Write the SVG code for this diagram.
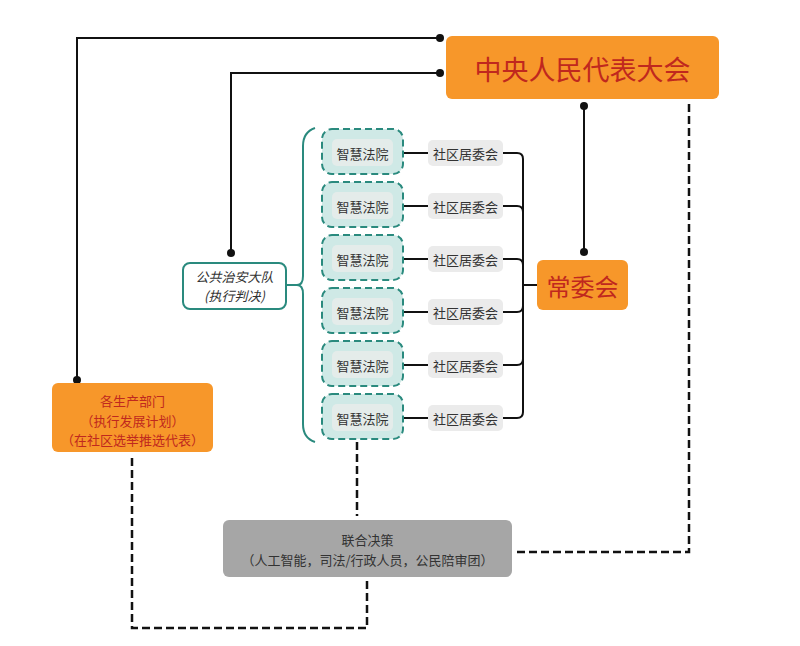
<svg xmlns="http://www.w3.org/2000/svg" width="800" height="646" viewBox="0 0 800 646">
<defs>
<style>
.t{font-family:"Noto Sans CJK SC","Noto Sans",sans-serif;}
.or{fill:#F7972A;}
.court-o{fill:#CFE9E6;stroke:#2A8A7E;stroke-width:2;stroke-dasharray:7 4;}
.court-i{fill:#E4ECEA;}
.comm{fill:#EBEBEB;}
.lbl{font-size:13px;fill:#333;text-anchor:middle;dominant-baseline:central;}
.ln{fill:none;stroke:#111;stroke-width:2;}
.dl{fill:none;stroke:#111;stroke-width:2.5;stroke-dasharray:8 4;}
</style>
</defs>
<rect width="800" height="646" fill="#fff"/>
<g id="connectors">
<path class="ln" d="M440,38 H77 V380"/>
<path class="ln" d="M440,73 H231 V253"/>
<circle cx="440" cy="38" r="4" fill="#111"/>
<circle cx="440" cy="73" r="4" fill="#111"/>
<circle cx="77" cy="380" r="4" fill="#111"/>
<circle cx="231" cy="253" r="4" fill="#111"/>
<path class="ln" d="M584,106 V252"/>
<circle cx="584" cy="106" r="4" fill="#111"/>
<circle cx="584" cy="252" r="4" fill="#111"/>
<path fill="none" stroke="#2A8A7E" stroke-width="2" d="M286,285 H298 M315,128 Q303,132 303,146 V276 Q303,285 297,285 Q303,285 303,294 V424 Q303,438 315,442"/>
<g class="ln">
<path d="M393,153 H428 M393,206 H428 M393,259 H428 M393,312 H428 M393,365 H428 M393,418 H428"/>
<path d="M503,153 H517 Q523,153 523,159 V412 Q523,418 517,418 H503"/>
<path d="M503,206 H517 Q523,206 523,212 M503,259 H517 Q523,259 523,265 M503,312 H517 Q523,312 523,306 M503,365 H517 Q523,365 523,359"/>
<path d="M523,285 H537"/>
</g>
<path class="dl" d="M357,442 V516"/>
<path class="dl" d="M367,581 V628 H132 V455"/>
<path class="dl" d="M517,552 H689 V101"/>
</g>
<g id="npc">
<rect class="or" x="446" y="36" width="273" height="63" rx="6"/>
<text class="t" x="582.5" y="68" font-size="27" fill="#C0281E" text-anchor="middle" dominant-baseline="central">中央人民代表大会</text>
</g>
<g id="standing">
<rect class="or" x="537" y="260" width="91" height="50" rx="6"/>
<text class="t" x="582.5" y="285" font-size="24" fill="#C0281E" text-anchor="middle" dominant-baseline="central">常委会</text>
</g>
<g id="police">
<rect x="183" y="263" width="103" height="46" rx="7" fill="#fff" stroke="#2A8A7E" stroke-width="2"/>
<text class="t" x="234.5" y="276" font-size="13" font-style="italic" fill="#333" text-anchor="middle" dominant-baseline="central">公共治安大队</text>
<text class="t" x="234.5" y="295" font-size="13" font-style="italic" fill="#333" text-anchor="middle" dominant-baseline="central">(执行判决)</text>
</g>
<g id="court1"><rect class="court-o" x="322" y="129" width="81" height="45" rx="10"/><rect class="court-i" x="332" y="139" width="61" height="27" rx="5"/><text class="t lbl" x="362.5" y="153">智慧法院</text></g>
<g id="court2"><rect class="court-o" x="322" y="182" width="81" height="45" rx="10"/><rect class="court-i" x="332" y="192" width="61" height="27" rx="5"/><text class="t lbl" x="362.5" y="206">智慧法院</text></g>
<g id="court3"><rect class="court-o" x="322" y="235" width="81" height="45" rx="10"/><rect class="court-i" x="332" y="245" width="61" height="27" rx="5"/><text class="t lbl" x="362.5" y="259">智慧法院</text></g>
<g id="court4"><rect class="court-o" x="322" y="288" width="81" height="45" rx="10"/><rect class="court-i" x="332" y="298" width="61" height="27" rx="5"/><text class="t lbl" x="362.5" y="312">智慧法院</text></g>
<g id="court5"><rect class="court-o" x="322" y="341" width="81" height="45" rx="10"/><rect class="court-i" x="332" y="351" width="61" height="27" rx="5"/><text class="t lbl" x="362.5" y="365">智慧法院</text></g>
<g id="court6"><rect class="court-o" x="322" y="394" width="81" height="45" rx="10"/><rect class="court-i" x="332" y="404" width="61" height="27" rx="5"/><text class="t lbl" x="362.5" y="418">智慧法院</text></g>
<g id="comm1"><rect class="comm" x="428" y="140" width="75" height="26" rx="5"/><text class="t lbl" x="465.5" y="153">社区居委会</text></g>
<g id="comm2"><rect class="comm" x="428" y="193" width="75" height="26" rx="5"/><text class="t lbl" x="465.5" y="206">社区居委会</text></g>
<g id="comm3"><rect class="comm" x="428" y="246" width="75" height="26" rx="5"/><text class="t lbl" x="465.5" y="259">社区居委会</text></g>
<g id="comm4"><rect class="comm" x="428" y="299" width="75" height="26" rx="5"/><text class="t lbl" x="465.5" y="312">社区居委会</text></g>
<g id="comm5"><rect class="comm" x="428" y="352" width="75" height="26" rx="5"/><text class="t lbl" x="465.5" y="365">社区居委会</text></g>
<g id="comm6"><rect class="comm" x="428" y="405" width="75" height="26" rx="5"/><text class="t lbl" x="465.5" y="418">社区居委会</text></g>
<g id="production">
<rect class="or" x="52" y="383" width="161" height="69" rx="6"/>
<text class="t" font-size="13" fill="#C0281E" text-anchor="middle" dominant-baseline="central"><tspan x="132.5" y="400">各生产部门</tspan><tspan x="132.5" y="419.5">（执行发展计划）</tspan><tspan x="132.5" y="439">（在社区选举推选代表）</tspan></text>
</g>
<g id="joint">
<rect x="223" y="520" width="289" height="57" rx="6" fill="#A6A6A6"/>
<text class="t" font-size="13" fill="#333" text-anchor="middle" dominant-baseline="central"><tspan x="367.5" y="539">联合决策</tspan><tspan x="367.5" y="558.5">（人工智能，司法/行政人员，公民陪审团）</tspan></text>
</g>
</svg>
